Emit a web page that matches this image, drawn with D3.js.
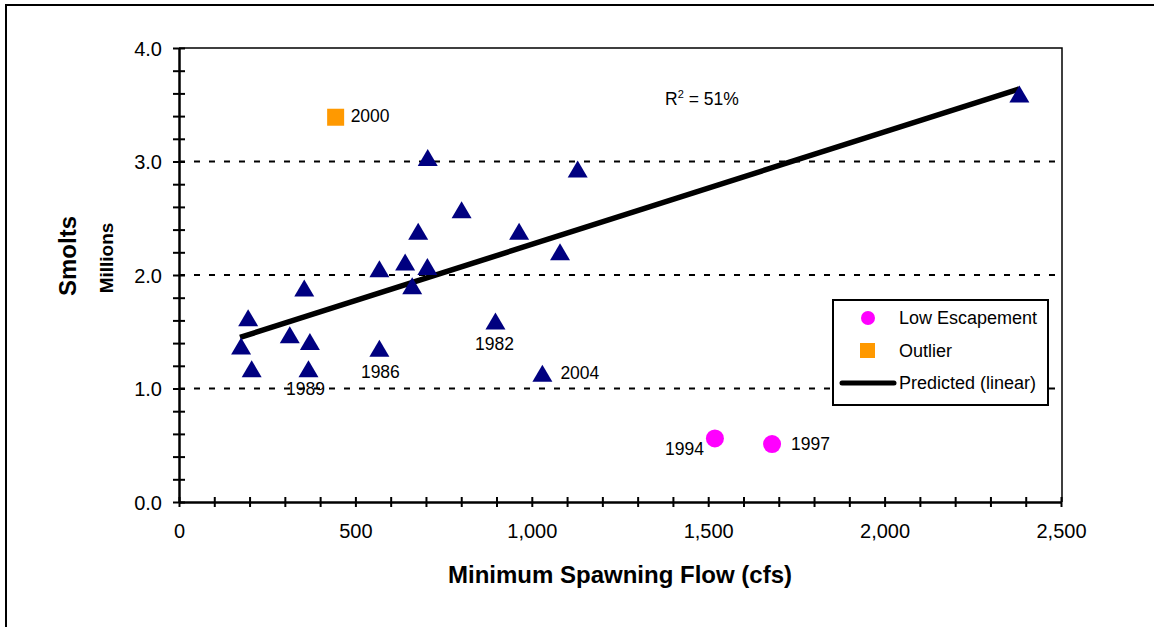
<!DOCTYPE html>
<html>
<head>
<meta charset="utf-8">
<script src="https://cdn.jsdelivr.net/npm/d3@7"></script>
<style>
  body { margin: 0; background: #fff; }
  text { font-family: "Liberation Sans", Arial, sans-serif; fill: #000; }
</style>
</head>
<body>
<div id="chart"></div>
<script>
// Observed years (triangles): minimum spawning flow (cfs) and smolts (millions)
var flowObs = [176, 196, 206, 314, 355, 371, 367, 568, 568, 641, 661, 678, 704, 705, 801, 897, 964, 1030, 1080, 1130, 2382];
var smoltsObs = [1.37, 1.62, 1.17, 1.47, 1.88, 1.41, 1.17, 2.05, 1.35, 2.11, 1.90, 2.38, 2.07, 3.03, 2.57, 1.59, 2.38, 1.13, 2.20, 2.93, 3.59];
var yearObs = ["", "", "", "", "", "", "1989", "", "1986", "", "", "", "", "", "", "1982", "", "2004", "", "", ""];

// Low escapement years
var flowLow = [1519, 1681];
var smoltsLow = [0.56, 0.51];
var yearLow = ["1994", "1997"];

// Outlier
var flowOut = [444];
var smoltsOut = [3.39];
var yearOut = ["2000"];

// Predicted (linear) line end points
var flowFit = [173, 2382];
var smoltsFit = [1.45, 3.64];

var xMajor = [0, 500, 1000, 1500, 2000, 2500];
var yMajor = [0, 1, 2, 3, 4];
var legendLabels = ["Low Escapement", "Outlier", "Predicted (linear)"];

// label placement relative to the point: [dx, dy, anchor]
var labelPos = {
  "1989": [-3, 26, "middle"],
  "1986": [1, 29, "middle"],
  "1982": [-1, 28, "middle"],
  "2004": [18, 5, "start"],
  "1994": [-11, 17, "end"],
  "1997": [19, 6, "start"],
  "2000": [15, 5, "start"]
};

var width = 1154, height = 627;
var plotLeft = 179, plotRight = 1061, plotTop = 48, plotBottom = 502;

var svg = d3.select("#chart").append("svg")
  .attr("width", width).attr("height", height);

// outer frame (runs off the right and bottom edges)
svg.append("rect")
  .attr("x", 6).attr("y", 5)
  .attr("width", width + 20).attr("height", height + 20)
  .attr("fill", "none").attr("stroke", "#000").attr("stroke-width", 2);

var x = d3.scaleLinear().domain([0, 2500]).range([plotLeft, plotRight]);
var y = d3.scaleLinear().domain([0, 4]).range([plotBottom, plotTop]);

// dashed gridlines
svg.selectAll(".grid")
  .data(yMajor.filter(function (d) { return d > 0 && d < 4; }))
  .enter().append("line")
  .attr("x1", plotLeft).attr("x2", plotRight)
  .attr("y1", function (d) { return y(d); })
  .attr("y2", function (d) { return y(d); })
  .attr("stroke", "#000").attr("stroke-width", 2)
  .attr("stroke-dasharray", "6,9");

// plot frame top / right
svg.append("path")
  .attr("d", "M" + plotLeft + "," + plotTop + "H" + (plotRight + 1) + "V" + plotBottom)
  .attr("fill", "none").attr("stroke", "#000").attr("stroke-width", 1.5);

// y axis: crossing minor ticks, labels on major
var yMinor = d3.range(0, 4.01, 0.2);
svg.append("g")
  .attr("transform", "translate(" + (plotLeft + 6) + ",0)")
  .call(d3.axisLeft(y).tickValues(yMinor).tickSize(12).tickFormat(""))
  .call(function (g) {
    g.select(".domain").remove();
    g.selectAll("line").attr("stroke", "#000").attr("stroke-width", 2);
  });
svg.append("g")
  .attr("transform", "translate(" + plotLeft + ",0)")
  .call(d3.axisLeft(y).tickValues(yMajor).tickSize(0).tickPadding(17).tickFormat(d3.format(".1f")))
  .call(function (g) {
    g.select(".domain").attr("stroke", "#000").attr("stroke-width", 2.5);
    g.selectAll("text").style("font-size", "20px").attr("dy", "0.35em");
  });

// x axis: crossing minor ticks every 100
var xMinor = d3.range(0, 2501, 100);
svg.append("g")
  .attr("transform", "translate(0," + (plotBottom - 5) + ")")
  .call(d3.axisBottom(x).tickValues(xMinor).tickSize(10).tickFormat(""))
  .call(function (g) {
    g.select(".domain").remove();
    g.selectAll("line").attr("stroke", "#000").attr("stroke-width", 2);
  });
svg.append("g")
  .attr("transform", "translate(0," + plotBottom + ")")
  .call(d3.axisBottom(x).tickValues(xMajor).tickSize(0).tickPadding(22).tickFormat(d3.format(",")))
  .call(function (g) {
    g.select(".domain").attr("stroke", "#000").attr("stroke-width", 2.5);
    g.selectAll("text").style("font-size", "20px").attr("dy", "0.71em");
  });

// axis titles
svg.append("text")
  .attr("x", 620).attr("y", 583)
  .attr("text-anchor", "middle")
  .style("font-size", "24px").style("font-weight", "bold")
  .text("Minimum Spawning Flow (cfs)");
svg.append("text")
  .attr("transform", "translate(76,256) rotate(-90)")
  .attr("text-anchor", "middle")
  .style("font-size", "24px").style("font-weight", "bold")
  .text("Smolts");
svg.append("text")
  .attr("transform", "translate(113,258) rotate(-90)")
  .attr("text-anchor", "middle")
  .style("font-size", "19px").style("font-weight", "bold")
  .text("Millions");

// fitted line
var line = d3.line()
  .x(function (d) { return x(d[0]); })
  .y(function (d) { return y(d[1]); });
svg.append("path")
  .datum(d3.zip(flowFit, smoltsFit))
  .attr("d", line)
  .attr("fill", "none").attr("stroke", "#000").attr("stroke-width", 5.5);

// triangles
var triPath = "M0,-9L10,8L-10,8Z";
var obs = d3.zip(flowObs, smoltsObs, yearObs);
svg.selectAll(".tri")
  .data(obs)
  .enter().append("path")
  .attr("d", triPath)
  .attr("transform", function (d) { return "translate(" + x(d[0]) + "," + y(d[1]) + ")"; })
  .attr("fill", "#000080");

// low escapement circles
var low = d3.zip(flowLow, smoltsLow, yearLow);
svg.selectAll(".low")
  .data(low)
  .enter().append("circle")
  .attr("cx", function (d) { return x(d[0]); })
  .attr("cy", function (d) { return y(d[1]); })
  .attr("r", 9)
  .attr("fill", "#FF00FF");

// outlier square
var out = d3.zip(flowOut, smoltsOut, yearOut);
svg.selectAll(".out")
  .data(out)
  .enter().append("rect")
  .attr("x", function (d) { return x(d[0]) - 8.5; })
  .attr("y", function (d) { return y(d[1]) - 8.5; })
  .attr("width", 17).attr("height", 17)
  .attr("fill", "#FF9900");

// year labels
var labelled = obs.concat(low, out).filter(function (d) { return d[2] !== ""; });
svg.selectAll(".yr")
  .data(labelled)
  .enter().append("text")
  .attr("x", function (d) { return x(d[0]) + labelPos[d[2]][0]; })
  .attr("y", function (d) { return y(d[1]) + labelPos[d[2]][1]; })
  .attr("text-anchor", function (d) { return labelPos[d[2]][2]; })
  .style("font-size", "17.5px")
  .text(function (d) { return d[2]; });

// R squared
var r2 = svg.append("text")
  .attr("x", 665).attr("y", 105)
  .style("font-size", "17.5px");
r2.append("tspan").text("R");
r2.append("tspan").attr("dy", -7).style("font-size", "11px").text("2");
r2.append("tspan").attr("dy", 7).text(" = 51%");

// legend
var legend = svg.append("g").attr("transform", "translate(833,300)");
legend.append("rect")
  .attr("width", 215).attr("height", 105)
  .attr("fill", "#fff").attr("stroke", "#000").attr("stroke-width", 2);
var rowY = [18, 51, 83];
legend.append("circle").attr("cx", 35).attr("cy", rowY[0]).attr("r", 7).attr("fill", "#FF00FF");
legend.append("rect").attr("x", 27).attr("y", rowY[1] - 8).attr("width", 15).attr("height", 15).attr("fill", "#FF9900");
legend.append("line").attr("x1", 9).attr("x2", 61).attr("y1", rowY[2]).attr("y2", rowY[2])
  .attr("stroke", "#000").attr("stroke-width", 5).attr("stroke-linecap", "round");
legend.selectAll(".lt")
  .data(legendLabels)
  .enter().append("text")
  .attr("x", 66)
  .attr("y", function (d, i) { return rowY[i]; })
  .attr("dy", "0.35em")
  .style("font-size", "18px")
  .text(function (d) { return d; });
</script>
</body>
</html>
